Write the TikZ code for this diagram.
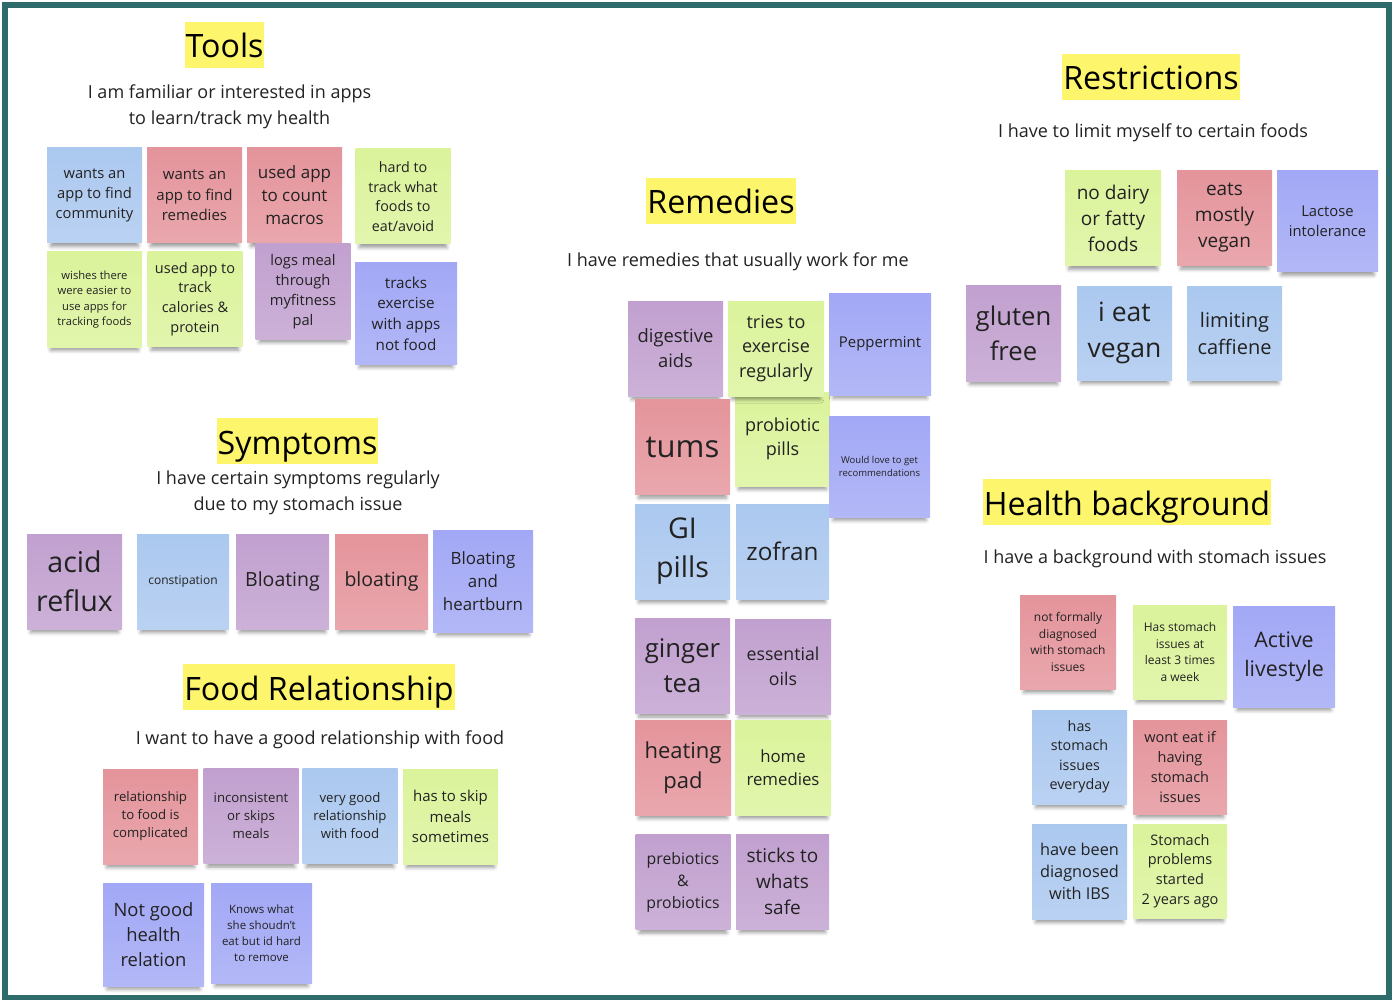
\documentclass[tikz,border=0pt]{standalone}
\usepackage{fontspec}
\setmainfont{Open Sans}
\usetikzlibrary{shadows.blur}

\definecolor{frame}{HTML}{2E6B6B}
\definecolor{marker}{HTML}{FDF56B}
\definecolor{notetext}{HTML}{222222}
\definecolor{notered}{HTML}{E4949B}
\definecolor{noteblue}{HTML}{ABC8EF}
\definecolor{notegreen}{HTML}{DBF39B}
\definecolor{notepurple}{HTML}{C1A0CF}
\definecolor{noteviolet}{HTML}{A2A8F5}

\newcommand{\nf}[2]{\fontsize{#1}{#2}\selectfont}

\tikzset{
  sticky/.style={top color=#1, bottom color=#1!82!white, minimum width=95, minimum height=95,
    inner sep=0, align=center, text=notetext,
    blur shadow={shadow xshift=0pt, shadow yshift=-8pt, shadow scale=0.92, shadow opacity=40, shadow blur radius=4pt}},
  heading/.style={fill=marker, inner xsep=1, inner ysep=0, text height=36, text depth=10,
    font=\nf{32.2}{40}, text=black},
  subheading/.style={align=center, font=\nf{18}{26}, text=notetext, inner sep=0}
}

\begin{document}
\begin{tikzpicture}[x=1pt,y=-1pt]
    \useasboundingbox (0,0) rectangle (1394,1000);
    \draw[frame, line width=6.5] (5,5) rectangle (1389,998);

    \node[heading, anchor=base] (toolstitle) at (224.5,58) {Tools};
    \node[subheading, anchor=base] (toolssub) at (229.5,125) {I am familiar or interested in apps\\to learn/track my health};
    \node[sticky=noteblue, font=\nf{14.7}{20}] (community) at (94.5,195.5) {wants an\\app to find\\community};
    \node[sticky=notered, font=\nf{15}{20.5}] (remedyapp) at (194.5,195.5) {wants an\\app to find\\remedies};
    \node[sticky=notered, font=\nf{17}{23}] (macros) at (294.5,195.5) {used app\\to count\\macros};
    \node[sticky=notegreen, font=\nf{14.3}{19.5}] (hardtrack) at (403,196.5) {hard to\\track what\\foods to\\eat/avoid};
    \node[sticky=notegreen, font=\nf{11.2}{15.3}] (easierapps) at (94.5,299.5) {wishes there\\were easier to\\use apps for\\tracking foods};
    \node[sticky=notegreen, font=\nf{14.5}{19.7}] (calories) at (195,299) {used app to\\track\\calories \&\\protein};
    \node[sticky=notepurple, font=\nf{14.7}{20}] (myfitness) at (303,291.5) {logs meal\\through\\myfitness\\pal};
    \node[sticky=noteviolet, minimum width=102, minimum height=101, font=\nf{15.2}{20.7}] (appexercise) at (406,313.5) {tracks\\exercise\\with apps\\not food};

    \node[heading, anchor=base] (symptomstitle) at (297.5,454) {Symptoms};
    \node[subheading, anchor=base] (symptomssub) at (298,510) {I have certain symptoms regularly\\due to my stomach issue};
    \node[sticky=notepurple, font=\nf{28.6}{39}] (acidreflux) at (74.5,581.5) {acid\\reflux};
    \node[sticky=noteblue, minimum width=92, font=\nf{12}{16}] (constipation) at (183,581.5) {constipation};
    \node[sticky=notepurple, minimum width=93, font=\nf{19.5}{26}] (bloatingA) at (282.5,581.5) {Bloating};
    \node[sticky=notered, minimum width=93, font=\nf{19.5}{26}] (bloatingB) at (381.5,581.5) {bloating};
    \node[sticky=noteviolet, minimum width=100, minimum height=102, font=\nf{16.9}{23}] (heartburn) at (483,581) {Bloating\\and\\heartburn};

    \node[heading, anchor=base] (foodtitle) at (319,700) {Food Relationship};
    \node[subheading, anchor=base] (foodsub) at (320,744) {I want to have a good relationship with food};
    \node[sticky=notered, font=\nf{13.2}{18}] (complicated) at (150.5,816.5) {relationship\\to food is\\complicated};
    \node[sticky=notepurple, font=\nf{13.2}{18}] (skipsmeals) at (251,816) {inconsistent\\or skips\\meals};
    \node[sticky=noteblue, font=\nf{13.2}{18}] (goodrelation) at (350,816) {very good\\relationship\\with food};
    \node[sticky=notegreen, font=\nf{15}{20.5}] (skipsometimes) at (450.5,816.5) {has to skip\\meals\\sometimes};
    \node[sticky=noteviolet, minimum width=101, minimum height=103, font=\nf{18.4}{25}] (notgood) at (153.5,934.5) {Not good\\health\\relation};
    \node[sticky=noteviolet, minimum width=101, minimum height=100, font=\nf{11.5}{16}] (knowswhat) at (261.5,933) {Knows what\\she shoudn{\char"27}t\\eat but id hard\\to remove};

    \node[heading, anchor=base] (remediestitle) at (721,214) {Remedies};
    \node[subheading, anchor=base] (remediessub) at (738,266) {I have remedies that usually work for me};
    \node[sticky=notepurple, font=\nf{18.4}{25}] (digestive) at (675.5,348.5) {digestive\\aids};
    \node[sticky=notegreen, minimum height=94, font=\nf{18}{24}] (probiotic) at (782.5,439) {probiotic\\pills};
    \node[sticky=notegreen, minimum width=96, font=\nf{18}{24.5}] (exerciseregularly) at (776,348.5) {tries to\\exercise\\regularly};
    \node[sticky=noteviolet, minimum width=102, minimum height=102, font=\nf{14.9}{20}] (peppermint) at (880,344) {Peppermint};
    \node[sticky=notered, font=\nf{31}{40}] (tums) at (682.5,447) {tums};
    \node[sticky=noteviolet, minimum width=101, minimum height=101, font=\nf{9.5}{13}] (wouldlove) at (879.5,466.5) {Would love to get\\recommendations};
    \node[sticky=noteblue, font=\nf{28.6}{39}] (gipills) at (682.5,551.5) {GI\\pills};
    \node[sticky=noteblue, minimum width=93, font=\nf{24.3}{32}] (zofran) at (782.5,551.5) {zofran};
    \node[sticky=notepurple, font=\nf{25.7}{35}] (gingertea) at (682.5,666) {ginger\\tea};
    \node[sticky=notepurple, minimum width=96, font=\nf{17.7}{25}] (essentialoils) at (783,666.5) {essential\\oils};
    \node[sticky=notered, minimum width=96, font=\nf{22}{30}] (heatingpad) at (683,767.5) {heating\\pad};
    \node[sticky=notegreen, minimum width=96, font=\nf{16.8}{23}] (homeremedies) at (783,767.5) {home\\remedies};
    \node[sticky=notepurple, font=\nf{15.8}{22}] (prebiotics) at (683,882) {prebiotics\\\&\\probiotics};
    \node[sticky=notepurple, minimum width=93, font=\nf{19}{26}] (stickssafe) at (782.5,881.5) {sticks to\\whats\\safe};

    \node[heading, anchor=base] (restrictionstitle) at (1151,90) {Restrictions};
    \node[subheading, anchor=base] (restrictionssub) at (1153,138) {I have to limit myself to certain foods};
    \node[sticky=notegreen, minimum width=96, font=\nf{19}{26}] (nodairy) at (1113,218.5) {no dairy\\or fatty\\foods};
    \node[sticky=notered, font=\nf{19}{26}] (mostlyvegan) at (1224.5,218) {eats\\mostly\\vegan};
    \node[sticky=noteviolet, minimum width=101, minimum height=101, font=\nf{14.8}{20}] (lactose) at (1327.5,221.5) {Lactose\\intolerance};
    \node[sticky=notepurple, minimum height=96, font=\nf{25.7}{35}] (glutenfree) at (1013.5,333) {gluten\\free};
    \node[sticky=noteblue, minimum height=94, font=\nf{26.5}{36}] (ieatvegan) at (1124.5,333) {i eat\\vegan};
    \node[sticky=noteblue, minimum height=94, font=\nf{20}{27}] (caffiene) at (1234.5,333) {limiting\\caffiene};

    \node[heading, anchor=base] (healthtitle) at (1127,515) {Health background};
    \node[subheading, anchor=base] (healthsub) at (1155,563) {I have a background with stomach issues};
    \node[sticky=notered, minimum width=96, minimum height=94, font=\nf{12}{16.5}] (notdiagnosed) at (1068,642) {not formally\\diagnosed\\with stomach\\issues};
    \node[sticky=notegreen, minimum width=94, minimum height=94, font=\nf{12}{16.7}] (threetimes) at (1180,652) {Has stomach\\issues at\\least 3 times\\a week};
    \node[sticky=noteviolet, minimum width=102, minimum height=101, font=\nf{21.4}{29}] (activelife) at (1284,656.5) {Active\\livestyle};
    \node[sticky=noteblue, minimum height=94, font=\nf{14.3}{19.5}] (everyday) at (1079.5,757) {has\\stomach\\issues\\everyday};
    \node[sticky=notered, minimum width=94, minimum height=94, font=\nf{14.5}{20}] (wonteat) at (1180,767) {wont eat if\\having\\stomach\\issues};
    \node[sticky=noteblue, font=\nf{16.3}{22}] (ibs) at (1079.5,871.5) {have been\\diagnosed\\with IBS};
    \node[sticky=notegreen, minimum width=94, minimum height=94, font=\nf{14.5}{19.7}] (twoyears) at (1180,871) {Stomach\\problems\\started\\2 years ago};
\end{tikzpicture}
\end{document}
